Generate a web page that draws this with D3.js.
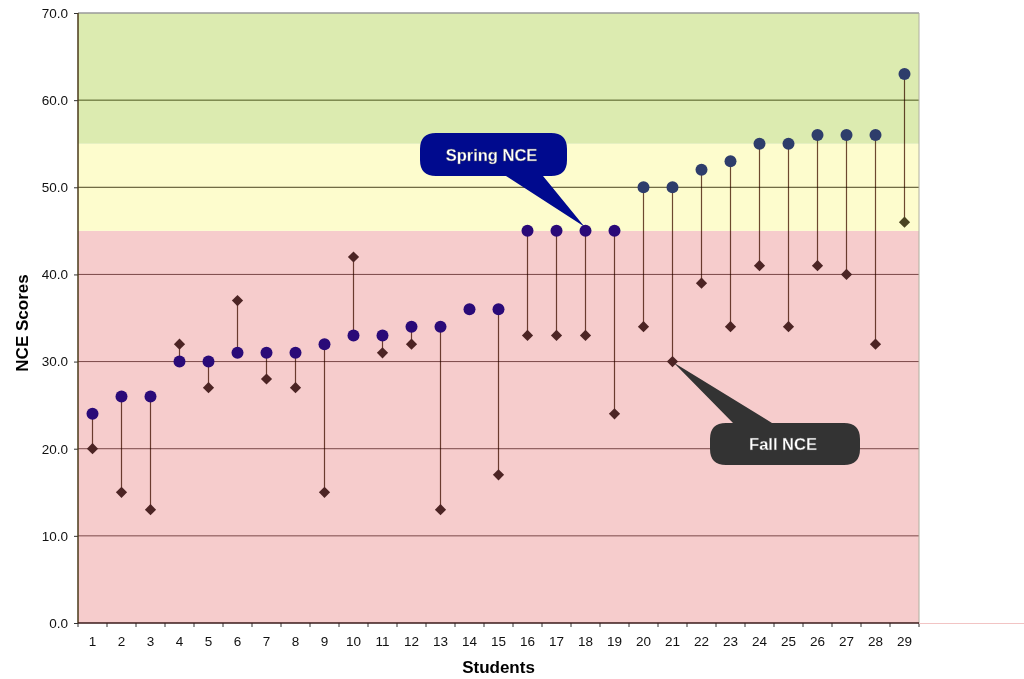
<!DOCTYPE html>
<html>
<head>
<meta charset="utf-8">
<script src="https://cdn.jsdelivr.net/npm/d3@7"></script>
<style>
  body { margin: 0; background: #fff; }
  svg { display: block; font-family: "Liberation Sans", Arial, Helvetica, sans-serif; }
</style>
</head>
<body>
<div id="chart"></div>
<script>
// data
var students = d3.range(1, 30);
var springNCE = [24, 26, 26, 30, 30, 31, 31, 31, 32, 33, 33, 34, 34, 36, 36,
                 45, 45, 45, 45, 50, 50, 52, 53, 55, 55, 56, 56, 56, 63];
var fallNCE = [20, 15, 13, 32, 27, 37, 28, 27, 15, 42, 31, 32, 13, 36, 17,
               33, 33, 33, 24, 34, 30, 39, 34, 41, 34, 41, 40, 32, 46];
var yTicks = [0, 10, 20, 30, 40, 50, 60, 70];
var bands = [
  { from: 0, to: 45, color: "#f6cccc" },
  { from: 45, to: 55, color: "#fdfccd" },
  { from: 55, to: 70, color: "#dcebb0" }
];

var svgWidth = 1024, svgHeight = 679;
var plotLeft = 78, plotRight = 919, plotTop = 13, plotBottom = 623;

var svg = d3.select("#chart").append("svg")
  .attr("width", svgWidth)
  .attr("height", svgHeight);

var x = d3.scaleBand().domain(students).range([plotLeft, plotRight]);
var y = d3.scaleLinear().domain([0, 70]).range([plotBottom, plotTop]);

// background bands
svg.append("g").selectAll("rect").data(bands).enter()
  .append("rect")
  .attr("x", plotLeft)
  .attr("width", plotRight - plotLeft)
  .attr("y", d => y(d.to))
  .attr("height", d => y(d.from) - y(d.to))
  .attr("fill", d => d.color);

// gridlines
function gridColor(v) {
  if (v >= 55) return "#4b561c";
  if (v >= 45) return "#4a4420";
  return "#7a4848";
}
svg.append("g").selectAll("line").data(yTicks.filter(v => v > 0 && v < 70)).enter()
  .append("line")
  .attr("x1", plotLeft).attr("x2", plotRight)
  .attr("y1", d => y(d)).attr("y2", d => y(d))
  .attr("stroke", d => gridColor(d))
  .attr("stroke-width", 1);

// top / right frame
svg.append("line").attr("x1", plotLeft).attr("x2", plotRight).attr("y1", plotTop).attr("y2", plotTop)
  .attr("stroke", "#9a9a9a").attr("stroke-width", 1.5);
svg.append("line").attr("x1", plotRight).attr("x2", plotRight).attr("y1", plotTop).attr("y2", plotBottom)
  .attr("stroke", "#b0b0a0").attr("stroke-width", 1);

// left axis
var yAxis = d3.axisLeft(y).tickValues(yTicks).tickFormat(d3.format(".1f")).tickSize(4).tickPadding(6);
var gy = svg.append("g").attr("transform", "translate(" + plotLeft + ",0)").call(yAxis);
gy.select(".domain").remove();
gy.selectAll(".tick line").attr("stroke", "#333");
gy.selectAll(".tick text").attr("font-size", 13.5).attr("fill", "#111")
  .attr("font-family", "'Liberation Sans', Arial, sans-serif");
svg.append("line").attr("x1", plotLeft).attr("x2", plotLeft).attr("y1", plotTop).attr("y2", plotBottom)
  .attr("stroke", "#4a3a1a").attr("stroke-width", 1.5);

// bottom axis
var xAxis = d3.axisBottom(x).tickSize(0).tickPadding(13);
var gx = svg.append("g").attr("transform", "translate(0," + plotBottom + ")").call(xAxis);
gx.select(".domain").remove();
gx.selectAll(".tick text").attr("font-size", 13.5).attr("fill", "#111")
  .attr("font-family", "'Liberation Sans', Arial, sans-serif");
svg.append("g").selectAll("line").data(students.concat([30])).enter()
  .append("line")
  .attr("x1", d => d === 30 ? plotRight : x(d))
  .attr("x2", d => d === 30 ? plotRight : x(d))
  .attr("y1", plotBottom).attr("y2", plotBottom + 4)
  .attr("stroke", "#333");
svg.append("line").attr("x1", plotLeft).attr("x2", plotRight).attr("y1", plotBottom).attr("y2", plotBottom)
  .attr("stroke", "#3a1a1a").attr("stroke-width", 1.5);
svg.append("line").attr("x1", plotRight).attr("x2", svgWidth).attr("y1", plotBottom + 0.5).attr("y2", plotBottom + 0.5)
  .attr("stroke", "#f2c4c4").attr("stroke-width", 1);

// axis titles
svg.append("text")
  .attr("x", (plotLeft + plotRight) / 2).attr("y", 673)
  .attr("text-anchor", "middle")
  .attr("font-size", 17).attr("font-weight", "bold")
  .text("Students");
svg.append("text")
  .attr("transform", "translate(28," + ((plotTop + plotBottom) / 2 + 5) + ")rotate(-90)")
  .attr("text-anchor", "middle")
  .attr("font-size", 17).attr("font-weight", "bold")
  .text("NCE Scores");

// stems between spring and fall
var cx = d => x(d) + x.bandwidth() / 2;
svg.append("g").selectAll("line").data(students).enter()
  .append("line")
  .attr("x1", d => cx(d)).attr("x2", d => cx(d))
  .attr("y1", (d, i) => y(springNCE[i]))
  .attr("y2", (d, i) => y(fallNCE[i]))
  .attr("stroke", "#6e4a3a")
  .attr("stroke-width", 1.2)
  .style("mix-blend-mode", "multiply");

// fall diamonds
svg.append("g").selectAll("path").data(students).enter()
  .append("path")
  .attr("d", d3.symbol().type(d3.symbolDiamond2).size(80))
  .attr("transform", (d, i) => "translate(" + cx(d) + "," + y(fallNCE[i]) + ")")
  .attr("fill", (d, i) => fallNCE[i] >= 45 ? "#4a4422" : "#4c2424");

// spring circles
svg.append("g").selectAll("circle").data(students).enter()
  .append("circle")
  .attr("cx", d => cx(d))
  .attr("cy", (d, i) => y(springNCE[i]))
  .attr("r", 6)
  .attr("fill", (d, i) => springNCE[i] >= 46 ? "#2e3d6b" : "#2a0a78");

// callouts
function callout(box, tip, b1, b2, wedgeBottom, fill, label) {
  var r = 16;
  var x0 = box[0], y0 = box[1], x1 = box[2], y1 = box[3];
  var p = d3.path();
  p.moveTo(x0 + r, y0);
  if (!wedgeBottom) {
    p.lineTo(b1, y0);
    p.lineTo(tip[0], tip[1]);
    p.lineTo(b2, y0);
  }
  p.lineTo(x1 - r, y0);
  p.quadraticCurveTo(x1, y0, x1, y0 + r);
  p.lineTo(x1, y1 - r);
  p.quadraticCurveTo(x1, y1, x1 - r, y1);
  if (wedgeBottom) {
    p.lineTo(b2, y1);
    p.lineTo(tip[0], tip[1]);
    p.lineTo(b1, y1);
  }
  p.lineTo(x0 + r, y1);
  p.quadraticCurveTo(x0, y1, x0, y1 - r);
  p.lineTo(x0, y0 + r);
  p.quadraticCurveTo(x0, y0, x0 + r, y0);
  p.closePath();
  svg.append("path").attr("d", p.toString()).attr("fill", fill);
  svg.append("text")
    .attr("x", (x0 + x1) / 2 - 2).attr("y", (y0 + y1) / 2 + 6)
    .attr("text-anchor", "middle")
    .attr("font-size", 16.5).attr("font-weight", "bold")
    .attr("fill", "#fff")
    .attr("stroke", "#555").attr("stroke-width", 0.3)
    .text(label);
}

callout([420, 133, 567, 176], [cx(18) - 1, y(springNCE[17]) - 4], 506, 543, true, "#000a8e", "Spring NCE");
callout([710, 423, 860, 465], [cx(21) + 1, y(fallNCE[20]) + 1], 733, 772, false, "#333333", "Fall NCE");
</script>
</body>
</html>
